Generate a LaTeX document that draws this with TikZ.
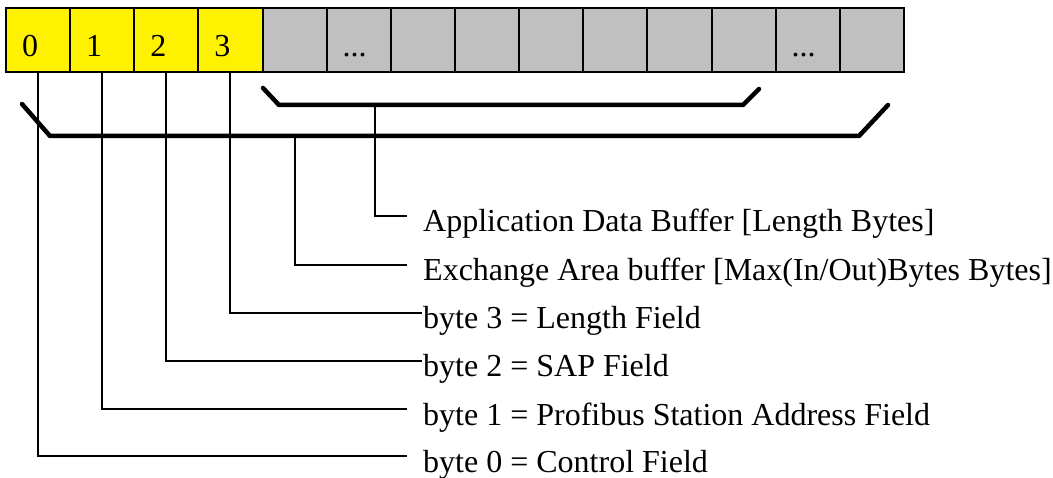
\documentclass[tikz,border=0pt]{standalone}
\usepackage{fontspec}
\setmainfont{Liberation Serif}
\begin{document}
\begin{tikzpicture}[x=1pt,y=-1pt,
  cell/.style={draw=black, line width=2pt, anchor=north west, outer sep=0pt,
    minimum width=64.14pt, minimum height=64pt, inner xsep=16pt, inner ysep=0pt,
    text width=32.14pt, align=left, text height=34pt, text depth=0pt,
    font=\fontsize{32}{38}\selectfont},
  bytecell/.style={cell, fill=yellow},
  datacell/.style={cell, fill=datagray},
  lbl/.style={anchor=west, inner xsep=16pt, inner ysep=0pt,
    text height=32pt, text depth=0pt, font=\fontsize{32}{38}\selectfont},
  conn/.style={line width=2pt},
  brace/.style={line width=4.5pt, line cap=round, line join=miter},
]
\definecolor{datagray}{RGB}{192,192,192}
\useasboundingbox (0,0) rectangle (1053,478);

% header bytes 0..3
\node[bytecell] (c0) at (6,8) {0};
\node[bytecell] (c1) at (70.14,8) {1};
\node[bytecell] (c2) at (134.28,8) {2};
\node[bytecell] (c3) at (198.42,8) {3};
% data area
\node[datacell] (c4)  at (262.56,8) {};
\node[datacell] (c5)  at (326.70,8) {...};
\node[datacell] (c6)  at (390.84,8) {};
\node[datacell] (c7)  at (454.98,8) {};
\node[datacell] (c8)  at (519.12,8) {};
\node[datacell] (c9)  at (583.26,8) {};
\node[datacell] (c10) at (647.40,8) {};
\node[datacell] (c11) at (711.54,8) {};
\node[datacell] (c12) at (775.68,8) {...};
\node[datacell] (c13) at (839.82,8) {};

% braces
\draw[brace] (263,88) -- (279,105) -- (743,105) -- (759,89);
\draw[brace] (22,104) -- (50,136) -- (859,136) -- (888,105);
\coordinate (appmid) at (375,105);
\coordinate (exmid) at (295,136);

% field descriptions
\node[lbl] (l5) at (407,216) {Application Data Buffer [Length Bytes]};
\node[lbl] (l4) at (407,265) {Exchange Area buffer [Max(In/Out)Bytes Bytes]};
\node[lbl] (l3) at (407,313) {byte 3 = Length Field};
\node[lbl] (l2) at (407,361) {byte 2 = SAP Field};
\node[lbl] (l1) at (407,409) {byte 1 = Profibus Station Address Field};
\node[lbl] (l0) at (407,456) {byte 0 = Control Field};

% leader lines
\draw[conn] (appmid) |- (l5.west);
\draw[conn] (exmid) |- (l4.west);
\draw[conn] (c3.south) |- ([xshift=15pt]l3.west);
\draw[conn] (c2.south) |- ([xshift=15pt]l2.west);
\draw[conn] (c1.south) |- (l1.west);
\draw[conn] (c0.south) |- (l0.west);
\end{tikzpicture}
\end{document}
